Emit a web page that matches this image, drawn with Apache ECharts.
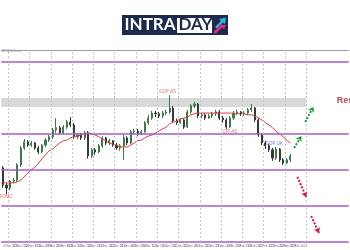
<!DOCTYPE html>
<html>
<head>
<meta charset="utf-8">
<script src="https://cdn.jsdelivr.net/npm/echarts@6/dist/echarts.min.js"></script>
<style>html,body{margin:0;padding:0;background:#fff}#c{width:350px;height:250px}</style>
</head>
<body>
<div id="c"></div>
<script>
// ---- data ----
const slotCount = 98; // candle slots on the time axis (last ones are empty forecast space)
const dateLabels = ["4 Nov 2020","9 Nov 2020","12 Nov 2020","17 Nov 2020","20 Nov 2020","25 Nov 2020","30 Nov 2020","3 Dec 2020","8 Dec 2020","11 Dec 2020","16 Dec 2020","21 Dec 2020","24 Dec 2020","29 Dec 2020","1 Jan 2021","6 Jan 2021","11 Jan 2021","14 Jan 2021","19 Jan 2021","22 Jan 2021","27 Jan 2021","1 Feb 2021","4 Feb 2021","9 Feb 2021","12 Feb 2021","17 Feb 2021","22 Feb 2021","25 Feb 2021"];
const gridSlots = [2, 8, 14, 20, 26, 32, 38, 44, 50, 56, 62, 68, 74, 80, 86];
// [open, close, low, high]
const candles = [
[1.7806,1.7758,1.7750,1.7811],[1.7758,1.7750,1.7733,1.7764],[1.7750,1.7769,1.7744,1.7772],[1.7769,1.7772,1.7764,1.7778],
[1.7772,1.7814,1.7767,1.7819],[1.7814,1.7861,1.7808,1.7867],[1.7861,1.7878,1.7856,1.7886],[1.7878,1.7869,1.7864,1.7883],
[1.7869,1.7875,1.7864,1.7881],[1.7875,1.7861,1.7856,1.7878],[1.7861,1.7850,1.7844,1.7867],[1.7850,1.7869,1.7847,1.7872],
[1.7869,1.7883,1.7864,1.7889],[1.7883,1.7892,1.7878,1.7897],[1.7892,1.7911,1.7886,1.7917],[1.7911,1.7917,1.7903,1.7944],
[1.7917,1.7903,1.7897,1.7922],[1.7903,1.7919,1.7900,1.7925],[1.7919,1.7933,1.7914,1.7939],[1.7933,1.7925,1.7919,1.7947],
[1.7925,1.7892,1.7886,1.7931],[1.7892,1.7897,1.7886,1.7903],[1.7897,1.7889,1.7883,1.7903],[1.7889,1.7903,1.7883,1.7908],
[1.7903,1.7839,1.7831,1.7908],[1.7839,1.7856,1.7833,1.7861],[1.7856,1.7850,1.7842,1.7861],[1.7850,1.7867,1.7847,1.7872],
[1.7867,1.7889,1.7861,1.7894],[1.7889,1.7875,1.7869,1.7892],[1.7875,1.7881,1.7869,1.7886],[1.7881,1.7869,1.7864,1.7883],
[1.7869,1.7861,1.7856,1.7875],[1.7861,1.7867,1.7853,1.7872],[1.7867,1.7889,1.7828,1.7897],[1.7889,1.7875,1.7869,1.7894],
[1.7875,1.7906,1.7872,1.7911],[1.7906,1.7908,1.7900,1.7914],[1.7908,1.7900,1.7894,1.7914],[1.7900,1.7906,1.7897,1.7911],
[1.7906,1.7931,1.7903,1.7936],[1.7931,1.7944,1.7925,1.7953],[1.7944,1.7958,1.7939,1.7964],[1.7958,1.7956,1.7947,1.7964],
[1.7956,1.7950,1.7944,1.7961],[1.7950,1.7958,1.7944,1.7964],[1.7958,1.7961,1.7953,1.7967],[1.7961,1.7972,1.7956,1.8008],
[1.7972,1.7936,1.7931,1.7978],[1.7936,1.7931,1.7925,1.7942],[1.7931,1.7939,1.7928,1.7944],[1.7939,1.7919,1.7914,1.7944],
[1.7919,1.7961,1.7917,1.7967],[1.7961,1.7978,1.7956,1.7983],[1.7978,1.7983,1.7972,1.7989],[1.7983,1.7950,1.7944,1.7986],
[1.7950,1.7953,1.7944,1.7958],[1.7953,1.7944,1.7939,1.7958],[1.7944,1.7950,1.7942,1.7956],[1.7950,1.7956,1.7944,1.7961],
[1.7956,1.7961,1.7950,1.7967],[1.7961,1.7944,1.7939,1.7967],[1.7944,1.7939,1.7931,1.7950],[1.7939,1.7919,1.7914,1.7944],
[1.7919,1.7944,1.7917,1.7950],[1.7944,1.7958,1.7939,1.7964],[1.7958,1.7961,1.7953,1.7967],[1.7961,1.7956,1.7950,1.7964],
[1.7956,1.7958,1.7950,1.7964],[1.7958,1.7967,1.7953,1.7972],[1.7967,1.7972,1.7961,1.7983],[1.7972,1.7939,1.7933,1.7975],
[1.7939,1.7897,1.7892,1.7944],[1.7897,1.7875,1.7869,1.7903],[1.7875,1.7867,1.7858,1.7881],[1.7867,1.7856,1.7850,1.7872],
[1.7856,1.7833,1.7825,1.7861],[1.7833,1.7858,1.7828,1.7864],[1.7858,1.7828,1.7822,1.7861],[1.7828,1.7819,1.7814,1.7833],
[1.7819,1.7828,1.7817,1.7833],[1.7828,1.7839,1.7822,1.7844]
];
const maValues = [1.7767,1.7764,1.7764,1.7764,1.7767,1.7772,1.7781,1.7792,1.7800,1.7808,1.7819,1.7831,1.7842,1.7853,1.7858,1.7867,
1.7875,1.7881,1.7883,1.7889,1.7892,1.7894,1.7897,1.7900,1.7903,1.7900,1.7897,1.7892,1.7886,1.7881,1.7875,1.7872,
1.7869,1.7864,1.7864,1.7864,1.7869,1.7875,1.7881,1.7883,1.7889,1.7894,1.7897,1.7903,1.7908,1.7914,1.7919,1.7928,
1.7933,1.7936,1.7942,1.7944,1.7947,1.7953,1.7956,1.7958,1.7958,1.7958,1.7958,1.7958,1.7958,1.7958,1.7958,1.7958,
1.7958,1.7956,1.7956,1.7956,1.7956,1.7953,1.7953,1.7950,1.7944,1.7939,1.7931,1.7925,1.7917,1.7908,1.7900,1.7892,
1.7883,1.7875];
const levels = [1.7600, 1.7700, 1.7800, 1.7900, 1.8100];
const resistanceZone = [1.7975, 1.8000];
const zoneEndSlot = 86;
const priceMin = 1.7600, priceMax = 1.8133;
const events = [
  {name: 'FOMC', slot: 1.4, price: 1.7725, color: '#e0483e'},
  {name: 'GDP AS', slot: 46.9, price: 1.8017, color: '#e0483e'},
  {name: 'CPI AS', slot: 64.5, price: 1.7906, color: '#e0483e'},
  {name: 'GDP UK', slot: 77.0, price: 1.7872, color: '#3b5bc4'}
];
const resistanceLabel = {name: 'Resistance', slot: 94.6, price: 1.7992};
const upArrows = [[[82.6, 1.7861], [84.6, 1.7894]], [[85.7, 1.7933], [88.0, 1.7975]]];
const downArrows = [[[83.5, 1.7781], [86.0, 1.7725]], [[87.4, 1.7672], [89.6, 1.7625]]];
const symbolLabel = 'GBPAUD,Daily';

// ---- chart ----
const chart = echarts.init(document.getElementById('c'), null, {renderer: 'canvas'});
const categories = Array.from({length: slotCount}, (_, i) => String(i));

const option = {
  animation: false,
  backgroundColor: '#ffffff',
  grid: {left: 1, right: -2, top: 50, bottom: 8},
  xAxis: [
    {
      type: 'category', data: categories, boundaryGap: true,
      axisLine: {show: false}, axisTick: {show: false},
      axisLabel: {
        show: true, interval: 0, fontSize: 3, color: '#777', margin: 3, align: 'left',
        formatter: (v, i) => (i % 3 === 0 && dateLabels[i / 3]) ? dateLabels[i / 3] : ''
      },
      splitLine: {show: false}
    },
    {
      type: 'value', min: 0, max: slotCount, position: 'top',
      axisLine: {show: true, onZero: false, lineStyle: {color: '#a0a0a0', width: 1}},
      axisTick: {show: false}, axisLabel: {show: false}, splitLine: {show: false}
    }
  ],
  yAxis: {
    type: 'value', min: priceMin, max: priceMax, show: false, scale: true,
    splitLine: {show: false}
  },
  graphic: [
    {type: 'rect', shape: {x: 122, y: 15, width: 106, height: 20}, style: {fill: '#1d2a4d'}},
    {type: 'rect', shape: {x: 177, y: 18, width: 35, height: 15}, style: {fill: '#ffffff'}},
    {type: 'text', x: 124.5, y: 16.5, style: {text: 'INTRA', fill: '#ffffff', font: 'bold 17px Lato', textVerticalAlign: 'top'}},
    {type: 'text', x: 178.5, y: 16.5, style: {text: 'DAY', fill: '#1d2a4d', font: 'bold 17px Lato', textVerticalAlign: 'top'}},
    {type: 'polygon', shape: {points: [[215,27],[221,21],[219,19],[226,17.5],[225,24],[223,22.5],[217,28.5]]}, style: {fill: '#2bb7e0'}},
    {type: 'polygon', shape: {points: [[214,33.5],[214,31],[220,26],[218,24.5],[226,25],[224,29],[222,27.5],[216,33.5]]}, style: {fill: '#e0277f'}},
    {type: 'text', x: 1, y: 49.5, style: {text: symbolLabel, fill: '#888', font: '3px sans-serif', textVerticalAlign: 'top'}}
  ],
  series: [
    {
      type: 'candlestick', xAxisIndex: 0, yAxisIndex: 0, data: candles, barWidth: '45%',
      itemStyle: {color: '#3d7a47', color0: '#383838', borderColor: '#3d7a47', borderColor0: '#383838', borderWidth: 1},
      markLine: {
        silent: true, symbol: ['none', 'none'], label: {show: false},
        lineStyle: {color: '#a35cc6', width: 1.5, type: 'solid'},
        data: levels.map(v => ({yAxis: v}))
      },
      z: 3
    },
    {
      type: 'line', xAxisIndex: 0, yAxisIndex: 0, data: maValues, showSymbol: false, symbol: 'none',
      smooth: 0.3, lineStyle: {color: '#d8383a', width: 1}, z: 4
    },
    {
      type: 'scatter', xAxisIndex: 1, yAxisIndex: 0, symbolSize: 0, z: 5,
      data: events.map(e => ({
        name: e.name, value: [e.slot, e.price],
        label: {show: true, position: 'inside', formatter: '{b}', color: e.color, fontSize: 4.5, fontFamily: 'sans-serif'}
      })).concat([{
        name: resistanceLabel.name, value: [resistanceLabel.slot, resistanceLabel.price],
        label: {show: true, position: 'inside', align: 'left', formatter: '{b}', color: '#9c1c1c', fontSize: 9, fontWeight: 'bold', fontFamily: 'sans-serif'}
      }]),
      markArea: {
        silent: true, itemStyle: {color: '#d9d9d9'},
        data: [[{coord: [0, resistanceZone[0]]}, {coord: [zoneEndSlot, resistanceZone[1]]}]]
      },
      markLine: {
        silent: true, symbol: ['none', 'none'], label: {show: false},
        lineStyle: {color: '#c4c4c4', width: 1, type: [2, 2]},
        data: gridSlots.map(s => ({xAxis: s}))
      }
    },
    {
      type: 'line', xAxisIndex: 1, yAxisIndex: 0, data: [], z: 6,
      markLine: {
        silent: true, symbol: ['none', 'arrow'], symbolSize: 5, label: {show: false},
        lineStyle: {color: '#1f9a2e', width: 2, type: [2, 1.5]},
        data: upArrows.map(a => [{coord: a[0]}, {coord: a[1]}])
      }
    },
    {
      type: 'line', xAxisIndex: 1, yAxisIndex: 0, data: [], z: 6,
      markLine: {
        silent: true, symbol: ['none', 'arrow'], symbolSize: 5, label: {show: false},
        lineStyle: {color: '#d4143c', width: 2, type: [2, 1.5]},
        data: downArrows.map(a => [{coord: a[0]}, {coord: a[1]}])
      }
    }
  ]
};
chart.setOption(option);
</script>
</body>
</html>
